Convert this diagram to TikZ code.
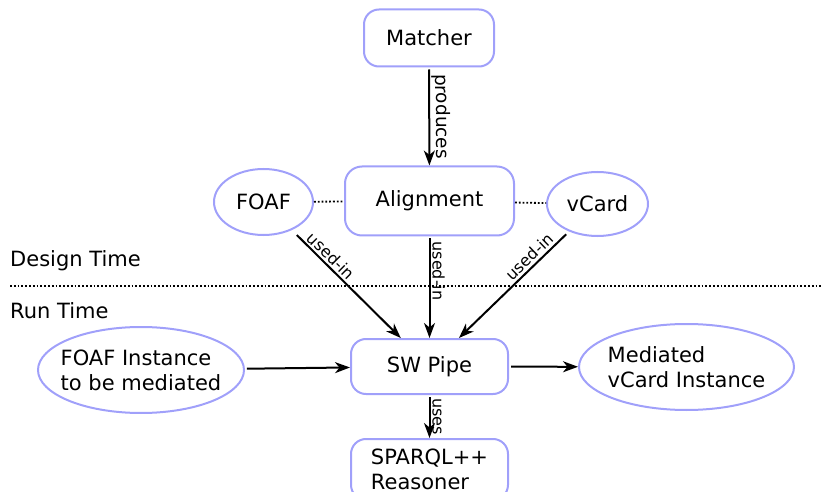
\documentclass[tikz,border=0pt]{standalone}
\usepackage{fontspec}
\setmainfont{DejaVu Sans}
\usetikzlibrary{arrows.meta,shapes.geometric}
\definecolor{nodeblue}{RGB}{160,160,250}
\tikzset{
  every node/.style={font=\fontsize{21}{25}\selectfont},
  rbox/.style={rectangle, rounded corners=15pt, draw=nodeblue, line width=2pt, inner sep=0pt},
  ell/.style={ellipse, draw=nodeblue, line width=2pt, inner sep=0pt},
  conn/.style={line width=2pt, -{Stealth[length=15pt,width=11pt,inset=4.5pt]}},
  dotline/.style={line width=1.8pt, dotted},
  lbl/.style={sloped, above, inner sep=2pt, font=\fontsize{16}{18}\selectfont},
  plain/.style={inner sep=0pt}
}
\begin{document}
\begin{tikzpicture}[x=1pt,y=-1pt]
\useasboundingbox (0,0) rectangle (823,492);
% nodes
\node[rbox, minimum width=130pt, minimum height=57pt] (matcher) at (429,38) {Matcher};
\node[rbox, rounded corners=17pt, minimum width=169pt, minimum height=69pt] (align) at (429.5,201) {Alignment};
\node[ell, minimum width=99pt, minimum height=66pt] (foaf) at (263.5,202) {FOAF};
\node[ell, minimum width=101pt, minimum height=64pt] (vcard) at (597.5,204) {vCard};
\node[rbox, minimum width=157pt, minimum height=55pt] (sw) at (429.5,366.5) {SW Pipe};
\node[ell, inner xsep=-8pt, minimum width=206pt, minimum height=86pt, align=left] (finst) at (141,370) {FOAF Instance\\to be mediated};
\node[ell, inner xsep=-8pt, minimum width=215pt, minimum height=86pt, align=left] (med) at (686.5,367) {Mediated\\vCard Instance};
\node[rbox, minimum width=157pt, inner ysep=10pt, anchor=north, align=left] (sparql) at (429.5,438) {SPARQL++\\Reasoner};
% time labels
\node[plain, anchor=base west] (design) at (10,267) {Design Time};
\node[plain, anchor=base west] (run) at (10,319) {Run Time};
\coordinate (dl) at (10,286);
\coordinate (dr) at (823,286);
\draw[dotline] (dl) -- (dr);
% dotted links
\draw[dotline] (foaf) -- (align);
\draw[dotline] (align) -- (vcard);
% arrows
\draw[conn, shorten <=2pt] (matcher) -- node[lbl, font=\fontsize{18.5}{20}\selectfont] {produces} (align);
\draw[conn, shorten <=7pt] (foaf) -- node[lbl, pos=0.3] {used-in} (sw);
\draw[conn, shorten <=2pt] (align) -- node[lbl, pos=0.34] {used-in} (sw);
\draw[conn, shorten <=4pt] (vcard) -- node[lbl, pos=0.3] {used-in} (sw);
\draw[conn, shorten <=2pt] (finst) -- (sw);
\draw[conn, shorten <=2pt] (sw) -- (med);
\draw[conn, shorten <=2pt] (sw) -- node[lbl] {uses} (sparql);
\end{tikzpicture}
\end{document}
